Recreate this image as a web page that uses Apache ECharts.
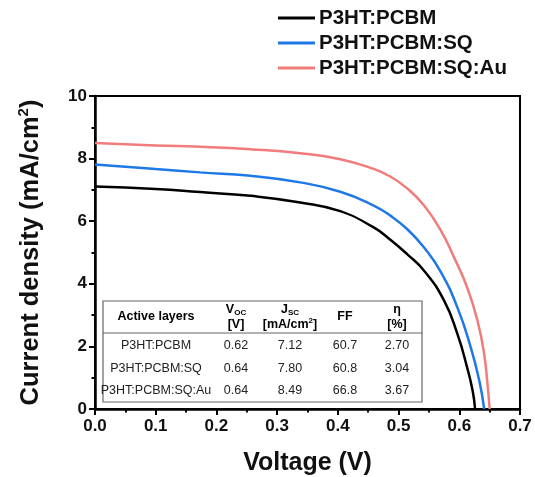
<!DOCTYPE html>
<html>
<head>
<meta charset="utf-8">
<script src="https://cdn.jsdelivr.net/npm/echarts@6/dist/echarts.min.js"></script>
<style>html,body{margin:0;padding:0;background:#fff;}#c{width:535px;height:477px;}</style>
</head>
<body>
<div id="c"></div>
<script>
// ---- data ----
const seriesNames = ['P3HT:PCBM', 'P3HT:PCBM:SQ', 'P3HT:PCBM:SQ:Au'];
const seriesColors = ['#000000', '#1e78e6', '#f07c7c'];

const voltageA = [0, 0.10, 0.173, 0.256, 0.338, 0.404, 0.459, 0.487, 0.514, 0.542, 0.575, 0.597, 0.613, 0.622, 0.626];
const currentA = [7.11, 7.03, 6.93, 6.81, 6.60, 6.32, 5.80, 5.40, 4.95, 4.42, 3.46, 2.39, 1.32, 0.58, 0.0];

const voltageB = [0, 0.10, 0.173, 0.256, 0.338, 0.404, 0.459, 0.487, 0.514, 0.542, 0.569, 0.597, 0.619, 0.633, 0.641];
const currentB = [7.81, 7.67, 7.56, 7.45, 7.24, 6.94, 6.50, 6.17, 5.75, 5.16, 4.40, 3.24, 1.96, 0.90, 0.0];

const voltageC = [0, 0.10, 0.173, 0.256, 0.338, 0.404, 0.459, 0.487, 0.514, 0.542, 0.569, 0.591, 0.613, 0.630, 0.641, 0.647, 0.650];
const currentC = [8.50, 8.42, 8.38, 8.30, 8.17, 7.98, 7.67, 7.42, 7.05, 6.50, 5.72, 4.86, 3.88, 2.82, 1.75, 0.68, 0.0];

const xTicks = [0, 0.1, 0.2, 0.3, 0.4, 0.5, 0.6, 0.7];
const yTicks = [0, 2, 4, 6, 8, 10];

const tableLayers = ['P3HT:PCBM', 'P3HT:PCBM:SQ', 'P3HT:PCBM:SQ:Au'];
const tableVoc = ['0.62', '0.64', '0.64'];
const tableJsc = ['7.12', '7.80', '8.49'];
const tableFF = ['60.7', '60.8', '66.8'];
const tableEta = ['2.70', '3.04', '3.67'];

// ---- chart ----
const FONT = '"Liberation Sans", Arial, sans-serif';
const chart = echarts.init(document.getElementById('c'), null, {renderer: 'canvas'});

const xs = [voltageA, voltageB, voltageC];
const ys = [currentA, currentB, currentC];
const series = seriesNames.map((n, i) => ({
  name: n,
  type: 'line',
  data: xs[i].map((v, k) => [v, ys[i][k]]),
  showSymbol: false,
  smooth: 0.5,
  lineStyle: {color: seriesColors[i], width: 2.5},
  itemStyle: {color: seriesColors[i]},
  z: 5
}));

// table graphic
const T = {left: 103, top: 301, right: 422, bottom: 402, sep: 333};
const colX = [156, 236, 290, 345, 397];
const rowY = [346, 368.5, 391];
const tableEls = [];
tableEls.push({type: 'rect', shape: {x: T.left, y: T.top, width: T.right - T.left, height: T.bottom - T.top},
  style: {fill: '#fff', stroke: '#666', lineWidth: 1.2}, z: 10});
tableEls.push({type: 'line', shape: {x1: T.left, y1: T.sep, x2: T.right, y2: T.sep},
  style: {stroke: '#666', lineWidth: 1.2}, z: 11});
const hdrRich = {
  b: {fontFamily: FONT, fontWeight: 'bold', fontSize: 12.5, color: '#222', lineHeight: 15},
  sub: {fontFamily: FONT, fontWeight: 'bold', fontSize: 8, color: '#222', verticalAlign: 'bottom', lineHeight: 15, padding: [5, 0, 0, 0]},
  sup: {fontFamily: FONT, fontWeight: 'bold', fontSize: 8, color: '#222', verticalAlign: 'top', lineHeight: 15}
};
const headers = [
  '{b|Active layers}',
  '{b|V}{sub|OC}\n{b|[V]}',
  '{b|J}{sub|SC}\n{b|[mA/cm}{sup|2}{b|]}',
  '{b|FF}',
  '{b|η}\n{b|[%]}'
];
headers.forEach((h, i) => {
  tableEls.push({type: 'text', x: colX[i], y: 317, z: 12,
    style: {text: h, rich: hdrRich, align: 'center', verticalAlign: 'middle'}});
});
const cols = [tableLayers, tableVoc, tableJsc, tableFF, tableEta];
for (let r = 0; r < 3; r++) {
  cols.forEach((col, i) => {
    tableEls.push({type: 'text', x: colX[i], y: rowY[r], z: 12,
      style: {text: col[r], fontFamily: FONT, fontSize: 12.5, fill: '#222', align: 'center', verticalAlign: 'middle'}});
  });
}

const option = {
  animation: false,
  backgroundColor: '#fff',
  grid: {left: 95, right: 15, top: 96, bottom: 68, show: true, borderColor: '#000', borderWidth: 2,
    backgroundColor: 'transparent', containLabel: false, outerBoundsMode: 'none'},
  legend: {
    orient: 'vertical',
    left: 278,
    top: 6,
    padding: 0,
    itemGap: 1,
    itemWidth: 37,
    itemHeight: 3,
    icon: 'rect',
    data: seriesNames,
    textStyle: {fontFamily: FONT, fontWeight: 'bold', fontSize: 20.5, color: '#111', lineHeight: 24, padding: [0, 0, 0, -1]}
  },
  xAxis: {
    type: 'value',
    min: 0, max: 0.7, interval: 0.1,
    name: 'Voltage (V)',
    nameLocation: 'middle',
    nameGap: 42,
    nameTextStyle: {fontFamily: FONT, fontWeight: 'bold', fontSize: 25, color: '#111'},
    axisLine: {show: true, onZero: false, lineStyle: {color: '#000', width: 2.5}},
    axisTick: {show: true, inside: false, length: 6, lineStyle: {color: '#000', width: 2}},
    minorTick: {show: true, splitNumber: 2, length: 3.5, lineStyle: {color: '#000', width: 2}},
    splitLine: {show: false},
    axisLabel: {fontFamily: FONT, fontWeight: 'bold', fontSize: 17, color: '#111', margin: 9,
      formatter: v => { const t = xTicks.find(x => Math.abs(x - v) < 1e-9); return t === undefined ? '' : t.toFixed(1); }}
  },
  yAxis: {
    type: 'value',
    min: 0, max: 10, interval: 2,
    name: '{t|Current density (mA/cm}{s|2}{t|)}',
    nameLocation: 'middle',
    nameGap: 49,
    nameRotate: 90,
    nameTextStyle: {
      rich: {
        t: {fontFamily: FONT, fontWeight: 'bold', fontSize: 25.5, color: '#111', lineHeight: 30},
        s: {fontFamily: FONT, fontWeight: 'bold', fontSize: 15, color: '#111', verticalAlign: 'top', lineHeight: 30}
      }
    },
    axisLine: {show: true, onZero: false, lineStyle: {color: '#000', width: 2.5}},
    axisTick: {show: true, inside: false, length: 6, lineStyle: {color: '#000', width: 2}},
    minorTick: {show: true, splitNumber: 2, length: 3.5, lineStyle: {color: '#000', width: 2}},
    splitLine: {show: false},
    axisLabel: {fontFamily: FONT, fontWeight: 'bold', fontSize: 17, color: '#111', margin: 8,
      formatter: v => { const t = yTicks.find(y => Math.abs(y - v) < 1e-9); return t === undefined ? '' : String(t); }}
  },
  series: series,
  graphic: tableEls
};
chart.setOption(option);
</script>
</body>
</html>
